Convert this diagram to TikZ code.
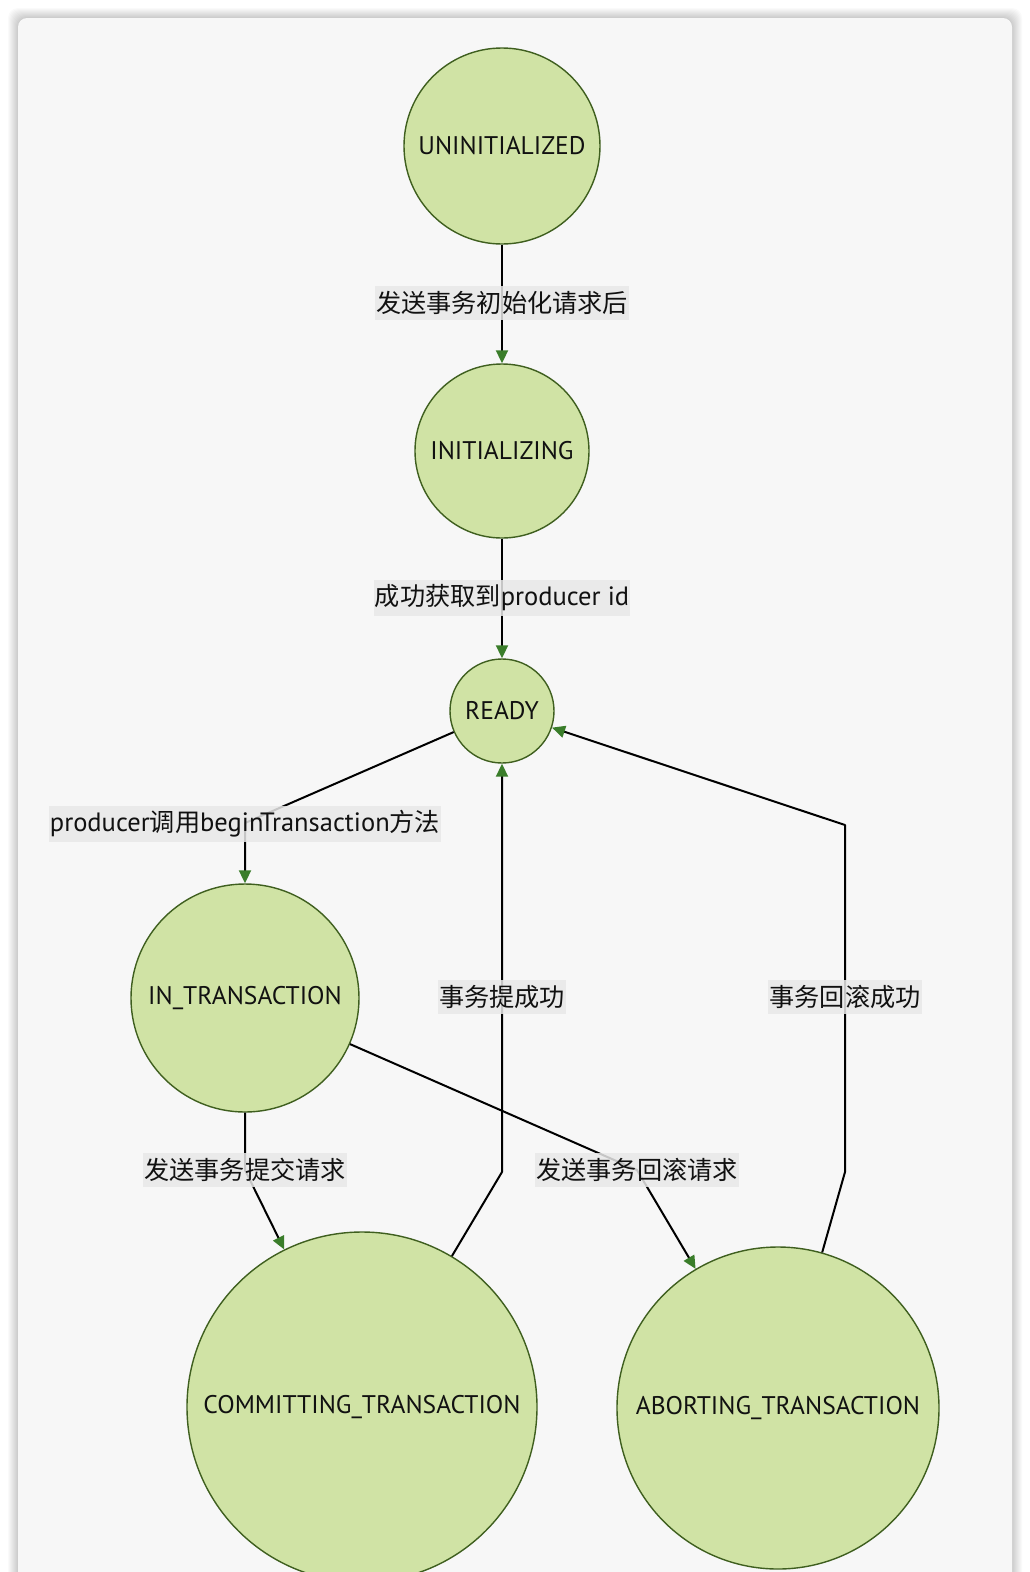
\documentclass[tikz,border=0pt]{standalone}
\usepackage{fontspec}
\setmainfont{PT Sans}
\newfontfamily\cjk[Scale=0.95]{Noto Sans CJK SC}
\usetikzlibrary{arrows.meta}
\definecolor{cardbg}{HTML}{F7F7F7}
\definecolor{nodefill}{HTML}{D0E3A5}
\definecolor{nodedraw}{HTML}{3F5F1F}
\definecolor{tipgreen}{HTML}{3A7D2A}
\definecolor{lblbg}{HTML}{E8E8E8}
\definecolor{txt}{HTML}{111111}
\begin{document}
\begin{tikzpicture}[x=1pt,y=-1pt,
  state/.style={circle,draw=nodedraw,fill=nodefill,line width=1.4pt,inner sep=0pt,text=txt,font=\fontsize{25.5}{30}\selectfont},
  conn/.style={draw=black,line width=2pt,line join=round,-{Triangle[length=13pt,width=12pt,color=tipgreen]}},
  lbl/.style={fill=lblbg,fill opacity=0.85,text opacity=1,text=txt,inner xsep=1pt,inner ysep=5pt,font=\fontsize{26.5}{30}\selectfont}]
\useasboundingbox (0,0) rectangle (1030,1572);
\clip (0,0) rectangle (1030,1572);
\fill[white] (0,0) rectangle (1030,1572);
% shadow
\foreach \i in {1,...,10}{
  \fill[black,opacity=0.018,rounded corners=10pt] (18-\i,18-\i) rectangle (1012+\i,1650);
}
\fill[cardbg,rounded corners=9pt] (18,18) rectangle (1012,1650);

% states
\node[state,minimum size=196pt] (uninit) at (502,146) {UNINITIALIZED};
\node[state,minimum size=174pt] (init) at (502,451) {INITIALIZING};
\node[state,minimum size=104pt] (ready) at (502,711) {READY};
\node[state,minimum size=228pt] (intr) at (245,998) {IN\_TRANSACTION};
\node[state,minimum size=350pt] (commit) at (362,1407) {COMMITTING\_TRANSACTION};
\node[state,minimum size=322pt] (abort) at (778,1408) {ABORTING\_TRANSACTION};

% bend points
\coordinate (b1) at (245,823);
\coordinate (c1) at (502,1172);
\coordinate (a1) at (845,1172);
\coordinate (a2) at (845,825);
\coordinate (i1) at (245,1170);
\coordinate (i2) at (637,1170);

% connectors
\draw[conn] (uninit) -- (init);
\draw[conn] (init) -- (ready);
\draw[conn] (ready) -- (b1) -- (intr);
\draw[conn] (commit) -- (c1) -- (ready);
\draw[conn] (abort) -- (a1) -- (a2) -- (ready);
\draw[conn] (intr) -- (i1) -- (commit);
\draw[conn] (intr) -- (i2) -- (abort);

% labels
\node[lbl] (l1) at (502,303) {\cjk 发送事务初始化请求后};
\node[lbl] (l2) at (502,598) {{\cjk 成功获取到}producer id};
\node[lbl] (l3) at (245,824) {producer{\cjk 调用}beginTransaction{\cjk 方法}};
\node[lbl] (l4) at (502,997) {\cjk 事务提成功};
\node[lbl] (l5) at (845,997) {\cjk 事务回滚成功};
\node[lbl] (l6) at (245,1170) {\cjk 发送事务提交请求};
\node[lbl] (l7) at (637,1170) {\cjk 发送事务回滚请求};
\end{tikzpicture}
\end{document}
